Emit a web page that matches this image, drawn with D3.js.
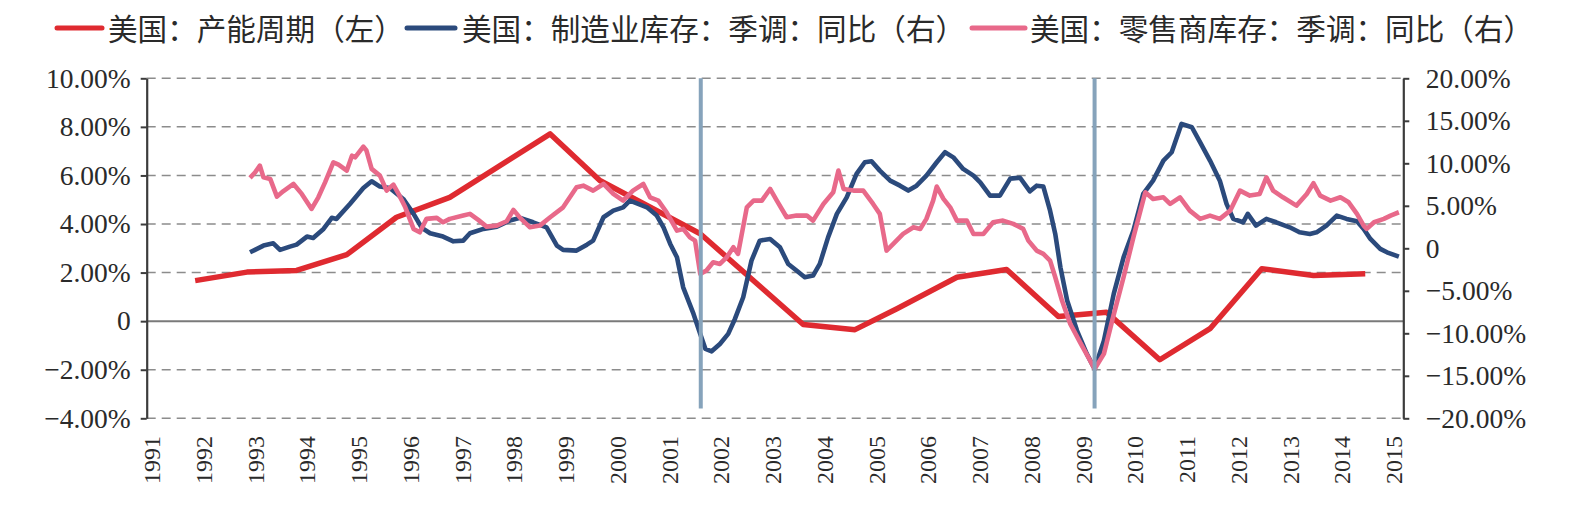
<!DOCTYPE html>
<html><head><meta charset="utf-8">
<script src="https://cdn.jsdelivr.net/npm/d3@7"></script>
<style>html,body{margin:0;padding:0;background:#fff;} svg{display:block;}</style>
</head><body><svg id="chart" width="1586" height="510"></svg>
<script>
// ---------- data ----------
const yearLabels = d3.range(1991, 2016).map(String);
const leftTicks = [-4, -2, 0, 2, 4, 6, 8, 10];
const rightTicks = [-20, -15, -10, -5, 0, 5, 10, 15, 20];
const seriesNames = ["美国：产能周期（左）", "美国：制造业库存：季调：同比（右）", "美国：零售商库存：季调：同比（右）"];
const recessionMarks = [2001.61, 2009.22];

// 美国：产能周期（左）  (fractional year, %)
const redDates  = [1991.84, 1992.84, 1993.80, 1994.77, 1995.73, 1996.76, 1998.70, 1999.66, 2001.60, 2003.59, 2004.59, 2005.40, 2006.56, 2007.52, 2008.52, 2009.45, 2010.48, 2011.45, 2012.45, 2013.45, 2014.45];
const redValues = [1.67, 2.02, 2.09, 2.74, 4.28, 5.10, 7.71, 5.79, 3.60, -0.14, -0.35, 0.51, 1.81, 2.13, 0.19, 0.37, -1.59, -0.31, 2.16, 1.88, 1.95];

// 美国：制造业库存：季调：同比（右）
const blueDates = [1992.90, 1993.16, 1993.35, 1993.48, 1993.67, 1993.80, 1994.00, 1994.12, 1994.32, 1994.48, 1994.57, 1994.83, 1995.09, 1995.25, 1995.41, 1995.60, 1995.86, 1996.06, 1996.22, 1996.38, 1996.63, 1996.83, 1997.02, 1997.15, 1997.41, 1997.67, 1997.92, 1998.12, 1998.37, 1998.63, 1998.83, 1998.95, 1999.21, 1999.41, 1999.53, 1999.73, 1999.92, 2000.11, 2000.24, 2000.40, 2000.57, 2000.76, 2000.89, 2001.02, 2001.15, 2001.27, 2001.47, 2001.60, 2001.70, 2001.82, 2001.98, 2002.14, 2002.27, 2002.43, 2002.59, 2002.75, 2002.95, 2003.14, 2003.30, 2003.46, 2003.62, 2003.78, 2003.91, 2004.07, 2004.24, 2004.43, 2004.62, 2004.78, 2004.91, 2005.07, 2005.27, 2005.46, 2005.62, 2005.78, 2005.97, 2006.17, 2006.33, 2006.49, 2006.68, 2006.88, 2007.01, 2007.20, 2007.39, 2007.59, 2007.78, 2007.97, 2008.10, 2008.23, 2008.36, 2008.46, 2008.56, 2008.69, 2008.88, 2009.07, 2009.22, 2009.40, 2009.59, 2009.78, 2009.97, 2010.16, 2010.35, 2010.55, 2010.71, 2010.90, 2011.10, 2011.26, 2011.45, 2011.64, 2011.77, 2011.90, 2012.09, 2012.18, 2012.34, 2012.54, 2012.73, 2012.99, 2013.18, 2013.38, 2013.51, 2013.70, 2013.90, 2014.09, 2014.29, 2014.42, 2014.55, 2014.74, 2014.87, 2015.10];
const blueValues = [-0.47, 0.32, 0.59, -0.19, 0.20, 0.43, 1.38, 1.22, 2.28, 3.58, 3.46, 5.22, 7.10, 7.89, 7.26, 7.10, 5.81, 4.05, 2.40, 1.77, 1.38, 0.82, 0.90, 1.77, 2.28, 2.55, 3.26, 3.58, 3.06, 2.47, 0.32, -0.19, -0.27, 0.43, 0.90, 3.65, 4.43, 4.82, 5.61, 5.22, 4.82, 3.85, 2.47, 0.51, -1.06, -4.59, -7.72, -10.07, -11.84, -12.12, -11.25, -10.07, -8.31, -5.76, -1.45, 0.90, 1.10, 0.12, -1.84, -2.62, -3.41, -3.21, -1.84, 1.29, 4.05, 6.00, 8.75, 10.12, 10.24, 9.14, 7.96, 7.37, 6.79, 7.37, 8.55, 10.12, 11.30, 10.70, 9.34, 8.55, 7.76, 6.20, 6.20, 8.20, 8.30, 6.70, 7.37, 7.26, 4.43, 1.69, -2.24, -6.15, -9.68, -12.42, -14.19, -10.86, -5.36, -1.06, 2.08, 6.40, 7.96, 10.32, 11.30, 14.64, 14.24, 12.47, 10.32, 7.96, 5.22, 3.46, 3.06, 4.05, 2.67, 3.46, 3.06, 2.47, 1.88, 1.69, 1.88, 2.67, 3.85, 3.46, 3.18, 2.28, 1.10, -0.07, -0.47, -0.98];

// 美国：零售商库存：季调：同比（右）
const pinkDates = [1992.90, 1993.00, 1993.09, 1993.16, 1993.29, 1993.42, 1993.54, 1993.74, 1993.90, 1994.09, 1994.22, 1994.35, 1994.51, 1994.61, 1994.77, 1994.87, 1994.93, 1995.09, 1995.15, 1995.25, 1995.41, 1995.54, 1995.67, 1995.77, 1995.90, 1996.06, 1996.18, 1996.31, 1996.51, 1996.63, 1996.76, 1997.02, 1997.15, 1997.31, 1997.47, 1997.67, 1997.86, 1997.99, 1998.12, 1998.31, 1998.50, 1998.70, 1998.95, 1999.21, 1999.34, 1999.53, 1999.73, 1999.92, 2000.11, 2000.30, 2000.50, 2000.63, 2000.79, 2000.95, 2001.15, 2001.27, 2001.40, 2001.50, 2001.60, 2001.72, 2001.85, 2001.98, 2002.11, 2002.24, 2002.33, 2002.50, 2002.63, 2002.79, 2002.95, 2003.08, 2003.27, 2003.46, 2003.66, 2003.78, 2003.98, 2004.17, 2004.27, 2004.37, 2004.56, 2004.75, 2004.94, 2005.07, 2005.20, 2005.33, 2005.52, 2005.72, 2005.85, 2005.97, 2006.10, 2006.17, 2006.30, 2006.43, 2006.56, 2006.75, 2006.88, 2007.07, 2007.26, 2007.45, 2007.65, 2007.84, 2007.94, 2008.10, 2008.23, 2008.36, 2008.46, 2008.59, 2008.75, 2008.94, 2009.10, 2009.22, 2009.40, 2009.56, 2009.78, 2009.97, 2010.20, 2010.35, 2010.55, 2010.68, 2010.87, 2011.06, 2011.26, 2011.45, 2011.64, 2011.84, 2012.03, 2012.22, 2012.41, 2012.54, 2012.67, 2012.86, 2013.12, 2013.32, 2013.45, 2013.58, 2013.78, 2013.97, 2014.13, 2014.29, 2014.42, 2014.48, 2014.62, 2014.81, 2014.94, 2015.10];
const pinkValues = [8.28, 8.94, 9.73, 8.35, 8.16, 6.08, 6.71, 7.57, 6.40, 4.63, 6.00, 7.76, 10.12, 9.85, 9.14, 10.90, 10.70, 11.96, 11.50, 9.34, 8.55, 6.79, 7.49, 6.40, 4.82, 2.28, 1.88, 3.46, 3.58, 3.06, 3.46, 3.85, 4.05, 3.34, 2.55, 2.67, 3.18, 4.52, 3.58, 2.47, 2.67, 3.65, 4.82, 7.18, 7.37, 6.79, 7.57, 6.40, 5.61, 6.79, 7.57, 6.00, 5.61, 4.24, 2.08, 2.28, 1.29, 0.90, -3.01, -2.62, -1.65, -1.84, -1.06, 0.12, -0.66, 4.82, 5.61, 5.61, 6.98, 5.61, 3.65, 3.85, 3.85, 3.26, 5.22, 6.59, 9.14, 6.98, 6.79, 6.79, 5.22, 4.05, -0.27, 0.51, 1.69, 2.47, 2.28, 3.46, 5.61, 7.26, 5.81, 4.82, 3.26, 3.26, 1.69, 1.69, 3.06, 3.26, 2.87, 2.28, 0.90, -0.27, -0.66, -1.45, -3.41, -6.15, -8.90, -11.06, -12.82, -14.19, -12.42, -8.51, -3.41, 1.29, 6.59, 5.81, 6.00, 5.22, 6.00, 4.43, 3.46, 3.85, 3.46, 4.43, 6.79, 6.20, 6.40, 8.35, 6.79, 6.00, 5.02, 6.40, 7.65, 6.20, 5.61, 6.00, 5.41, 4.05, 2.67, 2.28, 3.06, 3.46, 3.85, 4.24];

// ---------- drawing ----------
const svg = d3.select("#chart");
const L = 146.7, R = 1403.3, T = 78.3, B = 418.3;
const x = d3.scaleLinear().domain([1991, 2015]).range([151.7, 151.7 + 24 * 51.75]);
const yL = d3.scaleLinear().domain([-4, 10]).range([B, T]);
const yR = d3.scaleLinear().domain([-20, 20]).range([B, T]);
const fmt = v => v === 0 ? "0" : (v < 0 ? "\u2212" : "") + Math.abs(v).toFixed(2) + "%";

const serif = "'Liberation Serif','Times New Roman',serif";
const cjk = "'Noto Sans CJK SC','Noto Sans',sans-serif";

// gridlines
svg.append("g").selectAll("line").data(leftTicks).join("line")
  .attr("x1", L).attr("x2", R)
  .attr("y1", d => yL(d)).attr("y2", d => yL(d))
  .attr("stroke", d => d === 0 ? "#7a7a7a" : "#8c8c8c")
  .attr("stroke-width", d => d === 0 ? 2 : 1.5)
  .attr("stroke-dasharray", d => d === 0 ? null : "9,6");

// series
const colors = ["#df2a30", "#2b4a7c", "#e8698a"];
const widths = [5.5, 4.6, 4.6];
const lineL = d3.line().x(d => x(d[0])).y(d => yL(d[1]));
const lineR = d3.line().x(d => x(d[0])).y(d => yR(d[1]));
const redPts = redDates.map((d, i) => [d, redValues[i]]);
const bluePts = blueDates.map((d, i) => [d, blueValues[i]]);
const pinkPts = pinkDates.map((d, i) => [d, pinkValues[i]]);
svg.append("path").datum(redPts).attr("d", lineL).attr("fill", "none")
  .attr("stroke", colors[0]).attr("stroke-width", widths[0]).attr("stroke-linejoin", "round");
svg.append("path").datum(bluePts).attr("d", lineR).attr("fill", "none")
  .attr("stroke", colors[1]).attr("stroke-width", widths[1]).attr("stroke-linejoin", "round");
svg.append("path").datum(pinkPts).attr("d", lineR).attr("fill", "none")
  .attr("stroke", colors[2]).attr("stroke-width", widths[2]).attr("stroke-linejoin", "round");

// recession marker lines
svg.append("g").selectAll("line").data(recessionMarks).join("line")
  .attr("x1", d => x(d)).attr("x2", d => x(d))
  .attr("y1", yL(10)).attr("y2", yL(-3.6))
  .attr("stroke", "#86a3bb").attr("stroke-width", 4);

// axes
const axL = svg.append("g").attr("transform", `translate(${L},0)`)
  .call(d3.axisLeft(yL).tickValues(leftTicks).tickFormat(fmt).tickSize(6).tickSizeOuter(0).tickPadding(10));
const axR = svg.append("g").attr("transform", `translate(${R},0)`)
  .call(d3.axisRight(yR).tickValues(rightTicks).tickFormat(fmt).tickSize(6).tickSizeOuter(0).tickPadding(16.5));
[axL, axR].forEach(a => {
  a.select(".domain").attr("stroke", "#3c3c3c").attr("stroke-width", 2.2);
  a.selectAll(".tick line").attr("stroke", "#3c3c3c").attr("stroke-width", 2);
  a.selectAll(".tick text").attr("font-family", serif).attr("font-size", 27.5).attr("fill", "#2a2a2a");
});

// x labels
svg.append("g").selectAll("text").data(yearLabels).join("text")
  .attr("transform", d => `translate(${x(+d)},436) rotate(-90)`)
  .attr("text-anchor", "end").attr("dy", "0.35em")
  .attr("font-family", serif).attr("font-size", 24).attr("fill", "#2a2a2a")
  .text(d => d);

// legend
const legendPos = [[57, 102, 108], [407, 455, 462], [972, 1025, 1030]];
const lg = svg.append("g");
seriesNames.forEach((name, i) => {
  const [a, b, t] = legendPos[i];
  lg.append("line").attr("x1", a).attr("x2", b).attr("y1", 28).attr("y2", 28)
    .attr("stroke", colors[i]).attr("stroke-width", 5).attr("stroke-linecap", "round");
  lg.append("text").attr("x", t).attr("y", 27).attr("dominant-baseline", "central")
    .attr("font-family", cjk).attr("font-size", 29.6).attr("fill", "#2a2a2a").text(name);
});
</script></body></html>
